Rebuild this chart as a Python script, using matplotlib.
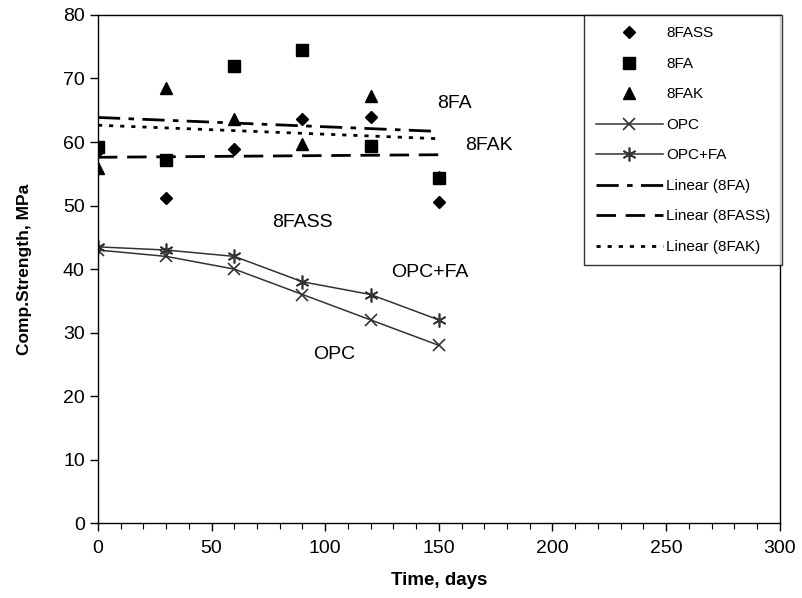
import numpy as np
import matplotlib
matplotlib.use("Agg")
import matplotlib.pyplot as plt
from matplotlib.ticker import MultipleLocator

plt.rcParams['font.family'] = ['Liberation Sans', 'DejaVu Sans']

# data
days = [0, 30, 60, 90, 120, 150]
fass = [58.6, 51.2, 58.9, 63.6, 63.9, 50.6]
fa = [59.2, 57.2, 72.0, 74.5, 59.4, 54.3]
fak = [55.9, 68.5, 63.7, 59.7, 67.2, 54.5]
opc = [43.0, 42.0, 40.0, 36.0, 32.0, 28.0]
opc_fa = [43.5, 43.0, 42.0, 38.0, 36.0, 32.0]

fig = plt.figure(figsize=(8.03, 5.98), dpi=100)
ax = fig.add_axes([0.122, 0.125, 0.849, 0.85])

ax.plot(days, fass, 'D', color='black', markersize=6.5, linestyle='none', label='8FASS')
ax.plot(days, fa, 's', color='black', markersize=8, linestyle='none', label='8FA')
ax.plot(days, fak, '^', color='black', markersize=8, linestyle='none', label='8FAK')
ax.plot(days, opc, '-x', color='#333333', lw=1.1, markersize=8, mew=1.2, label='OPC')
ax.plot(days, opc_fa, '-', color='#333333', lw=1.1, marker=(6, 2, 0), markersize=10,
        mew=1.2, label='OPC+FA')

# linear trend lines
t = np.array(days, dtype=float)
p = np.polyfit(t, fa, 1)
ax.plot(t, np.polyval(p, t), color='black', lw=2, dashes=(8, 3, 2, 3), label='Linear (8FA)')
p = np.polyfit(t, fass, 1)
ax.plot(t, np.polyval(p, t), color='black', lw=2, dashes=(7, 3.5), label='Linear (8FASS)')
p = np.polyfit(t, fak, 1)
ax.plot(t, np.polyval(p, t), color='black', lw=2, dashes=(1.5, 2.5), label='Linear (8FAK)')

ax.text(157, 66.1, '8FA', fontsize=14, ha='center', va='center')
ax.text(172, 59.5, '8FAK', fontsize=14, ha='center', va='center')
ax.text(90, 47.4, '8FASS', fontsize=14, ha='center', va='center')
ax.text(146, 39.5, 'OPC+FA', fontsize=14, ha='center', va='center')
ax.text(104, 26.5, 'OPC', fontsize=14, ha='center', va='center')

ax.set_xlim(0, 300)
ax.set_ylim(0, 80)
ax.xaxis.set_major_locator(MultipleLocator(50))
ax.xaxis.set_minor_locator(MultipleLocator(10))
ax.yaxis.set_major_locator(MultipleLocator(10))
ax.tick_params(axis='both', labelsize=14, direction='out', length=6, width=1)
ax.tick_params(axis='x', which='minor', direction='out', length=4, width=0.8)
ax.tick_params(axis='x', pad=6)
for s in ax.spines.values():
    s.set_linewidth(1.0)

ax.set_xlabel('Time, days', fontsize=13.5, fontweight='bold', labelpad=11)
ax.set_ylabel('Comp.Strength, MPa', fontsize=12.5, fontweight='bold', labelpad=22)

leg = ax.legend(loc='upper right', bbox_to_anchor=(1.003, 1.0), fontsize=11,
                frameon=True, fancybox=False, edgecolor='black', handlelength=4.4,
                labelspacing=1.08, borderpad=0.75, handletextpad=0.2, borderaxespad=0)
leg.get_frame().set_linewidth(1.0)

fig.savefig('out.png', dpi=100)
